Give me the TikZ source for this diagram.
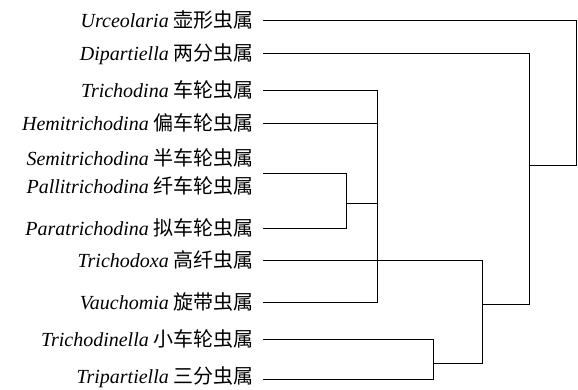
\documentclass[tikz,border=0pt]{standalone}
\usepackage{fontspec}
\setmainfont{Liberation Serif}
\newfontfamily\cjk{Noto Sans CJK SC}
\begin{document}
\begin{tikzpicture}[x=1pt,y=-1pt,
  lab/.style={anchor=base east, inner sep=0pt, font=\fontsize{20}{22}\selectfont},
  br/.style={line width=0.9pt}]
\useasboundingbox (0,0) rectangle (578,389);
% labels
\node[lab] (Lurc) at (254,27) {\textit{Urceolaria} {\cjk 壶形虫属}};
\node[lab] (Ldip) at (254,60) {\textit{Dipartiella} {\cjk 两分虫属}};
\node[lab] (Ltri) at (254,97) {\textit{Trichodina} {\cjk 车轮虫属}};
\node[lab] (Lhem) at (254,130) {\textit{Hemitrichodina} {\cjk 偏车轮虫属}};
\node[lab] (Lsem) at (254,165) {\textit{Semitrichodina} {\cjk 半车轮虫属}};
\node[lab] (Lpal) at (254,193) {\textit{Pallitrichodina} {\cjk 纤车轮虫属}};
\node[lab] (Lpar) at (254,235) {\textit{Paratrichodina} {\cjk 拟车轮虫属}};
\node[lab] (Ltdx) at (254,267) {\textit{Trichodoxa} {\cjk 高纤虫属}};
\node[lab] (Lvau) at (254,309) {\textit{Vauchomia} {\cjk 旋带虫属}};
\node[lab] (Ltnl) at (254,346) {\textit{Trichodinella} {\cjk 小车轮虫属}};
\node[lab] (Ltpt) at (254,383) {\textit{Tripartiella} {\cjk 三分虫属}};
% leaf line starts
\coordinate (urc) at (263,20);
\coordinate (dip) at (263,53);
\coordinate (tri) at (263,90);
\coordinate (hem) at (263,123);
\coordinate (sp)  at (263,173);
\coordinate (par) at (263,228);
\coordinate (tdx) at (263,260);
\coordinate (vau) at (263,302);
\coordinate (tnl) at (263,339);
\coordinate (tpt) at (263,379);
% junctions
\coordinate (J1) at (346,203);
\coordinate (J2) at (377,260);
\coordinate (J3) at (433,363);
\coordinate (J4) at (482,304);
\coordinate (J5) at (529,165);
\coordinate (J6) at (576,92);
% branches
\draw[br] (sp) -| (J1);
\draw[br] (par) -| (J1);
\draw[br] (tri) -| (J2);
\draw[br] (hem) -| (J2);
\draw[br] (J1) -| (J2);
\draw[br] (tdx) -- (J2);
\draw[br] (vau) -| (J2);
\draw[br] (tnl) -| (J3);
\draw[br] (tpt) -| (J3);
\draw[br] (J2) -| (J4);
\draw[br] (J3) -| (J4);
\draw[br] (dip) -| (J5);
\draw[br] (J4) -| (J5);
\draw[br] (urc) -| (J6);
\draw[br] (J5) -| (J6);
\end{tikzpicture}
\end{document}
